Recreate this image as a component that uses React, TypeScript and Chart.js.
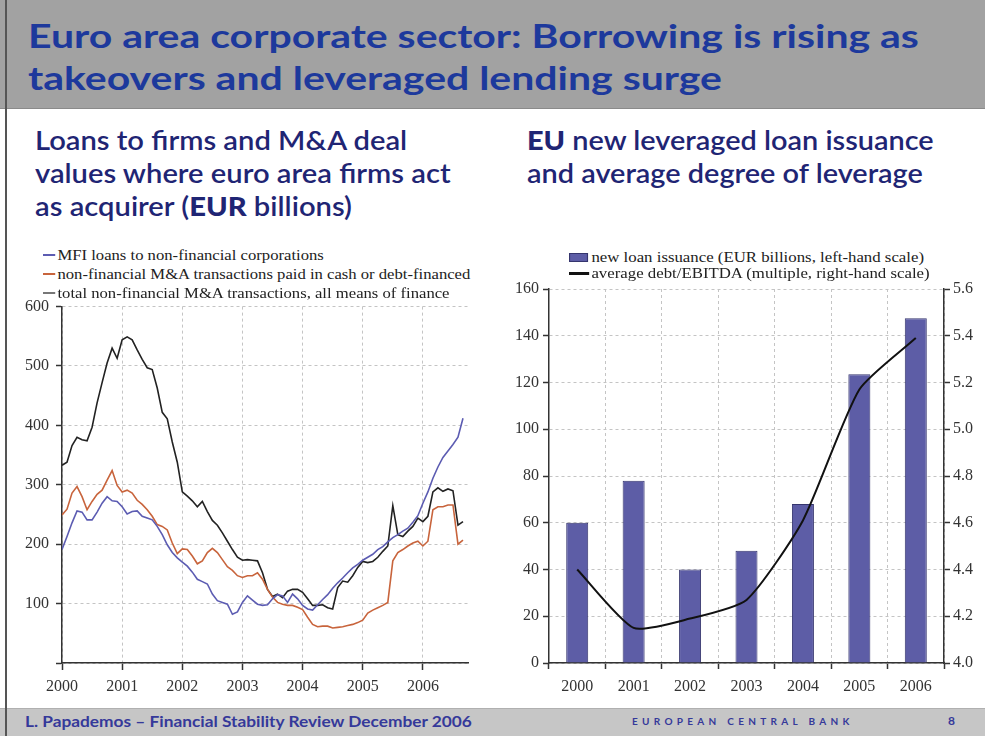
import React, { useEffect, useRef } from 'react';
import { Chart, registerables } from 'chart.js';

Chart.register(...registerables);

// ---------- Left chart data (monthly, Jan 2000 – Sep 2006, EUR billions) ----------
const startYear = 2000;
const yearTicks = [2000, 2001, 2002, 2003, 2004, 2005, 2006];

const mfiLoans = [
  191, 213, 236, 256, 254, 241, 241, 254, 269, 280, 273, 272,
  263, 251, 255, 256, 247, 244, 241, 230, 216, 199, 186, 177,
  170, 163, 153, 141, 137, 133, 116, 105, 102, 99, 82, 86,
  102, 113, 106, 99, 97, 98, 108, 115, 113, 102, 116, 108,
  97, 91, 89, 98, 107, 115, 126, 135, 143, 152, 160, 166,
  173, 178, 183, 191, 196, 204, 211, 216, 222, 227, 237, 248,
  269, 288, 311, 330, 346, 357, 368, 380, 412,
];

const cashMA = [
  249, 259, 286, 297, 280, 258, 272, 284, 291, 308, 324, 299,
  288, 291, 286, 274, 267, 258, 247, 233, 230, 224, 202, 184,
  192, 191, 180, 167, 172, 186, 193, 186, 174, 162, 156, 147,
  144, 147, 147, 152, 141, 124, 111, 102, 99, 97, 97, 94,
  90, 77, 65, 61, 62, 62, 59, 60, 61, 63, 65, 68,
  72, 84, 89, 93, 97, 102, 172, 186, 191, 197, 202, 205,
  197, 205, 258, 263, 263, 266, 266, 200, 207,
];

const totalMA = [
  333, 338, 366, 380, 376, 374, 397, 438, 472, 505, 530, 513,
  544, 549, 544, 527, 511, 497, 494, 463, 422, 411, 372, 338,
  288, 281, 273, 263, 272, 255, 240, 232, 219, 205, 191, 178,
  173, 174, 173, 172, 152, 124, 112, 116, 110, 121, 124, 124,
  119, 108, 97, 97, 98, 93, 91, 127, 138, 136, 147, 161,
  171, 169, 171, 178, 188, 197, 265, 216, 213, 222, 230, 244,
  238, 247, 288, 295, 289, 293, 290, 232, 238,
];

// ---------- Right chart data ----------
const barYears = ['2000', '2001', '2002', '2003', '2004', '2005', '2006'];
const issuance = [60, 78, 40, 48, 68, 123.5, 147.5];
const leverage = [4.4, 4.15, 4.19, 4.27, 4.61, 5.17, 5.39];

const SERIF = "'Liberation Serif', 'DejaVu Serif', serif";
const SANS = "Lato, 'Open Sans', sans-serif";
const TITLE_BLUE = '#1d399c';
const SUB_BLUE = '#1f2574';
const FOOT_BLUE = '#35399a';
const GRID = '#c4c4c4';
const AXIS = '#333333';
const BLUE_LINE = '#5c5cb2';
const ORANGE_LINE = '#c8643c';
const BLACK_LINE = '#222222';
const BAR_FILL = '#5d5da6';

function LeftChart() {
  const ref = useRef<HTMLCanvasElement>(null);
  useEffect(() => {
    const toXY = (arr: number[]) => arr.map((v, i) => ({ x: startYear + i / 12, y: v }));
    const tickFont = { family: SERIF, size: 16 };
    const chart = new Chart(ref.current as HTMLCanvasElement, {
      type: 'line',
      data: {
        datasets: [
          { label: 'MFI loans to non-financial corporations', data: toXY(mfiLoans), borderColor: BLUE_LINE, borderWidth: 1.6, pointRadius: 0, tension: 0 },
          { label: 'non-financial M&A transactions paid in cash or debt-financed', data: toXY(cashMA), borderColor: ORANGE_LINE, borderWidth: 1.6, pointRadius: 0, tension: 0 },
          { label: 'total non-financial M&A transactions, all means of finance', data: toXY(totalMA), borderColor: BLACK_LINE, borderWidth: 1.6, pointRadius: 0, tension: 0 },
        ],
      },
      options: {
        responsive: false,
        animation: false,
        layout: { padding: { top: 13, right: 22, bottom: 7, left: 0 } },
        plugins: { legend: { display: false }, tooltip: { enabled: false } },
        scales: {
          x: {
            type: 'linear',
            min: 2000,
            max: 2006.75,
            afterBuildTicks: (axis: any) => {
              axis.ticks = yearTicks.map((v) => ({ value: v }));
            },
            afterFit: (axis: any) => {
              axis.height = 40;
            },
            grid: { color: GRID, lineWidth: 1, tickLength: 7, tickColor: AXIS, tickWidth: 1.5, tickBorderDash: [] },
            border: { color: AXIS, width: 1.5, dash: [3, 3] },
            ticks: { color: '#333', font: tickFont, padding: 7, maxRotation: 0, autoSkip: false, callback: (v: any) => String(v) },
          },
          y: {
            min: 0,
            max: 600,
            afterFit: (axis: any) => {
              axis.width = 62;
            },
            grid: { color: GRID, lineWidth: 1, tickLength: 6, tickColor: AXIS, tickWidth: 1.5, tickBorderDash: [] },
            border: { color: AXIS, width: 1.5, dash: [3, 3] },
            ticks: { stepSize: 100, color: '#333', font: tickFont, padding: 7, callback: (v: any) => (v === 0 ? '' : String(v)) },
          },
        },
      },
    });
    return () => chart.destroy();
  }, []);
  return (
    <canvas ref={ref} width={490} height={420} style={{ position: 'absolute', left: 0, top: 290, width: 490, height: 420 }} />
  );
}

function RightChart() {
  const ref = useRef<HTMLCanvasElement>(null);
  useEffect(() => {
    const tickFont = { family: SERIF, size: 16 };
    const chart = new Chart(ref.current as HTMLCanvasElement, {
      type: 'bar',
      data: {
        labels: barYears,
        datasets: [
          { type: 'line', label: 'average debt/EBITDA (multiple, right-hand scale)', data: leverage, yAxisID: 'y1', borderColor: '#111', borderWidth: 2, pointRadius: 0, tension: 0.2, order: 0 } as any,
          { type: 'bar', label: 'new loan issuance (EUR billions, left-hand scale)', data: issuance, yAxisID: 'y', backgroundColor: BAR_FILL, borderColor: '#35356e', borderWidth: 1, barPercentage: 0.39, categoryPercentage: 1, order: 1 } as any,
        ],
      },
      options: {
        responsive: false,
        animation: false,
        layout: { padding: { top: 19, right: 0, bottom: 7, left: 0 } },
        plugins: { legend: { display: false }, tooltip: { enabled: false } },
        scales: {
          x: {
            afterFit: (axis: any) => {
              axis.height = 40;
            },
            grid: { offset: true, color: GRID, lineWidth: 1, tickLength: 6, tickColor: AXIS, tickWidth: 1.5, tickBorderDash: [] },
            border: { color: AXIS, width: 1.5, dash: [3, 3] },
            ticks: { color: '#333', font: tickFont, padding: 8, maxRotation: 0 },
          },
          y: {
            position: 'left',
            min: 0,
            max: 160,
            afterFit: (axis: any) => {
              axis.width = 59;
            },
            grid: { color: GRID, lineWidth: 1, tickLength: 6, tickColor: AXIS, tickWidth: 1.5, tickBorderDash: [] },
            border: { color: AXIS, width: 1.5, dash: [3, 3] },
            ticks: { stepSize: 20, color: '#333', font: tickFont, padding: 4 },
          },
          y1: {
            position: 'right',
            min: 4.0,
            max: 5.6,
            afterFit: (axis: any) => {
              axis.width = 41;
            },
            grid: { drawOnChartArea: false, color: GRID, tickLength: 6, tickColor: AXIS, tickWidth: 1.5, tickBorderDash: [] },
            border: { color: AXIS, width: 1.5 },
            ticks: { stepSize: 0.2, color: '#333', font: tickFont, padding: 3, callback: (v: any) => Number(v).toFixed(1) },
          },
        },
      },
    });
    return () => chart.destroy();
  }, []);
  return (
    <canvas ref={ref} width={495} height={440} style={{ position: 'absolute', left: 490, top: 270, width: 495, height: 440 }} />
  );
}

const abs = (s: React.CSSProperties): React.CSSProperties => ({ position: 'absolute', ...s });
const stretch = (k: number): React.CSSProperties => ({ transform: `scaleX(${k})`, transformOrigin: '0 0' });

export default function App() {
  const legendText: React.CSSProperties = { fontFamily: SERIF, fontSize: 15, color: '#222', whiteSpace: 'nowrap', lineHeight: '18px' };
  const leftLegend = [
    { color: BLUE_LINE, text: 'MFI loans to non-financial corporations', y: 255 },
    { color: ORANGE_LINE, text: 'non-financial M&A transactions paid in cash or debt-financed', y: 274 },
    { color: '#777', text: 'total non-financial M&A transactions, all means of finance', y: 293 },
  ];
  return (
    <div style={abs({ left: 0, top: 0, width: 985, height: 736, background: '#fff', overflow: 'hidden' })}>
      {/* header band */}
      <div style={abs({ left: 0, top: 0, width: 985, height: 108, background: '#a2a2a2', borderBottom: '1px solid #8a8a8a' })} />
      <div
        style={abs({
          left: 28,
          top: 15,
          fontFamily: SANS,
          fontWeight: 700,
          fontSize: 32,
          lineHeight: '42px',
          color: TITLE_BLUE,
          whiteSpace: 'nowrap',
          ...stretch(1.28),
        })}
      >
        Euro area corporate sector: Borrowing is rising as
        <br />
        takeovers and leveraged lending surge
      </div>

      {/* subtitles */}
      <div style={abs({ left: 35, top: 123, fontFamily: SANS, fontSize: 27, lineHeight: '33px', color: SUB_BLUE, whiteSpace: 'nowrap', fontWeight: 600, ...stretch(1.08) })}>
        Loans to firms and M&amp;A deal
        <br />
        values where euro area firms act
        <br />
        as acquirer (<b>EUR</b> billions)
      </div>
      <div style={abs({ left: 527, top: 123, fontFamily: SANS, fontSize: 27, lineHeight: '33px', color: SUB_BLUE, whiteSpace: 'nowrap', fontWeight: 600, ...stretch(1.07) })}>
        <b>EU</b> new leveraged loan issuance
        <br />
        and average degree of leverage
      </div>

      <LeftChart />
      <RightChart />

      {/* left legend */}
      {leftLegend.map((r) => (
        <div key={r.text} style={abs({ left: 43, top: r.y - 9, height: 18, display: 'flex', alignItems: 'center', ...stretch(1.11) })}>
          <div style={{ width: 11, height: 1.5, background: r.color, marginRight: 2 }} />
          <span style={legendText}>{r.text}</span>
        </div>
      ))}

      {/* right legend */}
      <div style={abs({ left: 569, top: 257 - 9, height: 18, display: 'flex', alignItems: 'center', ...stretch(1.12) })}>
        <div style={{ width: 17, height: 9, background: BAR_FILL, border: '1px solid #35356e', marginRight: 3, boxSizing: 'border-box' }} />
        <span style={legendText}>new loan issuance (EUR billions, left-hand scale)</span>
      </div>
      <div style={abs({ left: 569, top: 273 - 9, height: 18, display: 'flex', alignItems: 'center', ...stretch(1.12) })}>
        <div style={{ width: 18, height: 3, background: '#111', marginRight: 2 }} />
        <span style={legendText}>average debt/EBITDA (multiple, right-hand scale)</span>
      </div>

      {/* footer */}
      <div style={abs({ left: 0, top: 708, width: 985, height: 28, background: '#c6c6c6', borderTop: '1px solid #b0b0b0' })} />
      <div style={abs({ left: 25, top: 710, height: 22, lineHeight: '22px', fontFamily: SANS, fontWeight: 700, fontSize: 16, color: FOOT_BLUE, whiteSpace: 'nowrap', ...stretch(1.08) })}>
        L. Papademos – Financial Stability Review December 2006
      </div>
      <div style={abs({ left: 632, top: 710, height: 22, lineHeight: '22px', fontFamily: SANS, fontWeight: 700, fontSize: 10, letterSpacing: 4.3, color: FOOT_BLUE, whiteSpace: 'nowrap' })}>
        EUROPEAN CENTRAL BANK
      </div>
      <div style={abs({ left: 948, top: 710, height: 22, lineHeight: '22px', fontFamily: SANS, fontWeight: 700, fontSize: 12, color: FOOT_BLUE })}>8</div>

      {/* slide left edge */}
      <div style={abs({ left: 5, top: 0, width: 2, height: 736, background: '#555' })} />
    </div>
  );
}
